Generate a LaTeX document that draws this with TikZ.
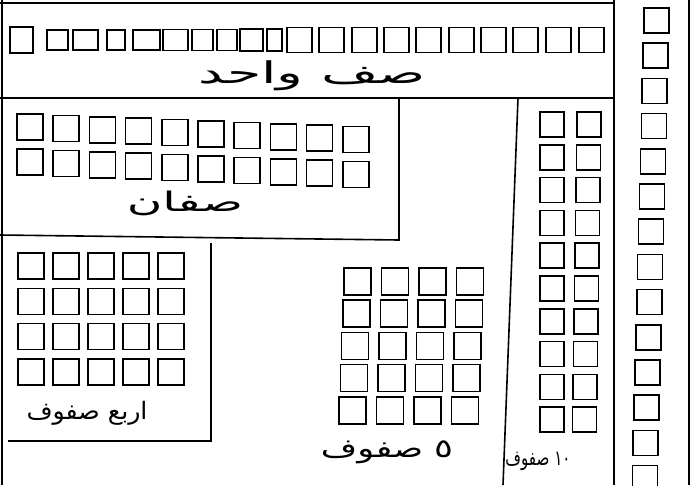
\documentclass[tikz,border=0pt]{standalone}
\usepackage{fontspec}
\newfontfamily\arabicfont[Script=Arabic]{DejaVu Sans}
\TeXXeTstate=1

\begin{document}
\begin{tikzpicture}[
  x=1pt, y=-1pt,
  frame/.style={line width=1.6pt, black},
  cell/.style={line width=1.5pt, black},
  lbl/.style={font=\arabicfont, inner sep=0pt},
]
  \useasboundingbox (0,0) rectangle (692,485);
  \clip (0,0) rectangle (692,485);

  %% ── Rahmen ──
  \draw[frame] (2,0) -- (2,485);
  \draw[frame] (0,3) -- (614,3);
  \draw[frame] (614,0) -- (614,485);
  \draw[frame] (689,0) -- (689,485);
  \draw[frame] (0,98) -- (614,98);
  \draw[frame] (399,98) -- (399,240) -- (0,235);
  \draw[frame] (211,243) -- (211,441) -- (8,441);
  \draw[frame] (518,98) -- (503,485);

  %% ── صف واحد ──
  \foreach \x/\w/\h in {10/23/26, 47/21/20, 73/25/20, 107/18/20, 133/27/20,
                        163/25/21, 192/21/21, 217/20/21, 240/23/22, 267/15/22,
                        287/25/25, 319/25/25, 352/25/25, 384/25/25, 416/25/25,
                        449/25/25, 481/25/25, 513/25/25, 546/25/25, 579/25/25}
    \draw[cell] (\x,{40-\h/2}) rectangle ++(\w,\h);
  \node[lbl] (onerow) at (312,76)
    {\fontsize{30}{32}\selectfont\scalebox{1.85}[1]{\beginR صف واحد\endR}};

  %% ── صفان ──
  \foreach \r in {0,1}
    \foreach \c in {0,...,9}
      \draw[cell] ({17+36.2*\c},{114+35*\r+1.4*\c}) rectangle ++(26,26);
  \node[lbl] (tworows) at (185,203)
    {\fontsize{27}{29}\selectfont\scalebox{1.8}[1]{\beginR صفان\endR}};

  %% ── اربع صفوف ──
  \foreach \r in {0,...,3}
    \foreach \c in {0,...,4}
      \draw[cell] ({18+35*\c},{253+35.3*\r}) rectangle ++(26,26);
  \node[lbl] (fourrows) at (87,413)
    {\fontsize{24}{26}\selectfont\scalebox{1.05}[1]{\beginR اربع صفوف\endR}};

  %% ── ٥ صفوف ──
  \foreach \r in {0,...,4}
    \foreach \c in {0,...,3}
      \draw[cell] ({344+37.5*\c-1.2*\r},{268+32.2*\r}) rectangle ++(27,27);
  \node[lbl] (fiverows) at (387,452)
    {\fontsize{26}{28}\selectfont\scalebox{1.35}[1]{\beginR ٥ صفوف\endR}};

  %% ── ١٠ صفوف ──
  \foreach \r in {0,...,9}
    \foreach \c in {0,1}
      \draw[cell] ({540+37*\c-0.5*\r*\c},{112+32.8*\r}) rectangle ++(24,25);
  \node[lbl] (tenrows) at (538,461)
    {\fontsize{21}{23}\selectfont\scalebox{0.72}[1]{\beginR ١٠ صفوف\endR}};

  %% ── عمود ──
  \foreach \r in {0,...,13}
    \draw[cell] ({644-0.9*\r},{8+35.2*\r}) rectangle ++(25,25);
\end{tikzpicture}
\end{document}
